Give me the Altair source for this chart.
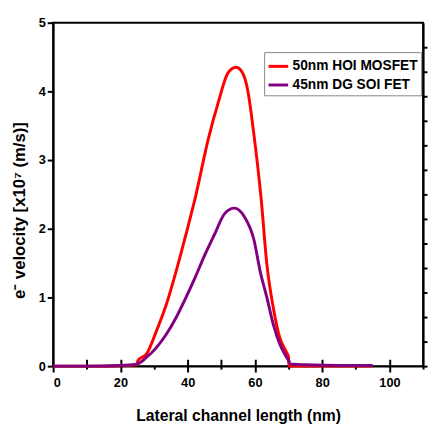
import altair as alt
import pandas as pd

red_name = "50nm HOI MOSFET"
purple_name = "45nm DG SOI FET"

red_x = [0, 5, 10, 15, 20, 24.9, 25.2, 27.8, 30.7, 33.6, 36.5, 39.4, 42.3, 46.2, 49.1, 52.0,
         54.4, 56.3, 57.8, 59.7, 61.8, 63.6, 65.5, 67.4, 69.4, 70.0, 70.1, 80, 95]
red_y = [0, 0, 0, 0, 0.005, 0.02, 0.08, 0.18, 0.51, 0.89, 1.37, 1.90, 2.46, 3.32, 3.84, 4.27,
         4.35, 4.27, 4.03, 3.37, 2.46, 1.46, 0.84, 0.41, 0.20, 0.13, 0.0, 0, 0]

purple_x = [0, 10, 20, 24.9, 27.8, 30.7, 33.6, 36.5, 39.4, 42.3, 45.2, 48.0, 51.0, 53.9,
            56.8, 59.7, 61.6, 63.6, 65.5, 67.4, 69.4, 70.0, 70.5, 75, 85, 95]
purple_y = [0, 0, 0.01, 0.03, 0.13, 0.27, 0.46, 0.70, 0.99, 1.30, 1.63, 1.92, 2.22, 2.30,
            2.18, 1.84, 1.37, 0.99, 0.60, 0.32, 0.13, 0.08, 0.03, 0.02, 0.01, 0.01]

x_ticks = [0, 10, 20, 30, 40, 50, 60, 70, 80, 90, 100, 110]
top_ticks = [10, 20, 40, 50, 60, 70, 80, 100]
y_ticks = [0, 1, 2, 3, 4, 5]
right_ticks = [round(k * 5 / 14, 4) for k in range(14)]

red_df = pd.DataFrame({"x": red_x, "y": red_y, "series": red_name})
purple_df = pd.DataFrame({"x": purple_x, "y": purple_y, "series": purple_name})

font = "Liberation Sans"
xscale = alt.Scale(domain=[0, 110], nice=False, zero=False)
yscale = alt.Scale(domain=[0, 5], nice=False)
cscale = alt.Scale(domain=[red_name, purple_name], range=["#ff0000", "#800080"])

legend = alt.Legend(
    title=None, orient="none", legendX=215, legendY=30,
    symbolType="stroke", symbolStrokeWidth=3, symbolSize=400,
    labelFont=font, labelFontSize=14, labelFontWeight="bold", labelColor="black",
    strokeColor="#888888", fillColor="white", padding=3, rowPadding=0,
    labelOffset=3,
)

bottom_axis = alt.Axis(
    orient="bottom", values=x_ticks, title="Lateral channel length (nm)",
    labelExpr="datum.value % 20 == 0 && datum.value <= 100 ? datum.label : ''",
    tickSize={"condition": {"test": "datum.value % 20 == 0", "value": 6}, "value": 3},
    labelFont=font, labelFontSize=13, labelFontWeight="bold", labelColor="black",
    titleFont=font, titleFontSize=16, titleFontWeight="bold", titleColor="black",
    titlePadding=18, labelPadding=5, grid=False,
    domainColor="black", domainWidth=2, tickColor="black", tickWidth=2,
)
left_axis = alt.Axis(
    orient="left", values=y_ticks, title="e\u207b  velocity [x10\u2077  (m/s)]",
    format="d", tickSize=6,
    labelFont=font, labelFontSize=13, labelFontWeight="bold", labelColor="black",
    titleFont=font, titleFontSize=17, titleFontWeight="bold", titleColor="black",
    titlePadding=10, labelPadding=2, grid=False, titleY=191,
    domainColor="black", domainWidth=2, tickColor="black", tickWidth=2,
)
right_axis = alt.Axis(
    orient="right", values=right_ticks, labels=False, title=None,
    tickSize=4, tickColor="black", tickWidth=2, grid=False,
    domainColor="black", domainWidth=2,
)
# top axis drawn as short grid segments hanging down from the top edge
top_axis = alt.Axis(
    orient="top", values=top_ticks, labels=False, title=None, domain=False,
    ticks=False, grid=True, gridColor="black", gridWidth=2, gridOpacity=1,
    gridDash=[7, 1000],
)

red = alt.Chart(red_df).mark_line(strokeWidth=3, interpolate="monotone").encode(
    x=alt.X("x:Q", scale=xscale, axis=bottom_axis),
    y=alt.Y("y:Q", scale=yscale, axis=left_axis),
    color=alt.Color("series:N", scale=cscale, legend=legend),
)
purple = alt.Chart(purple_df).mark_line(strokeWidth=3, interpolate="monotone").encode(
    x=alt.X("x:Q", scale=xscale, axis=top_axis),
    y=alt.Y("y:Q", scale=yscale, axis=right_axis),
    color=alt.Color("series:N", scale=cscale, legend=legend),
)

chart = alt.layer(red, purple).resolve_axis(x="independent", y="independent").properties(
    width=377, height=350,
    autosize=alt.AutoSizeParams(type="none"),
    padding={"left": 46, "top": 11, "right": 5, "bottom": 55},
).configure_view(stroke="black", strokeWidth=2)

chart.save("out.html", embed_options={"renderer": "svg", "actions": False})
